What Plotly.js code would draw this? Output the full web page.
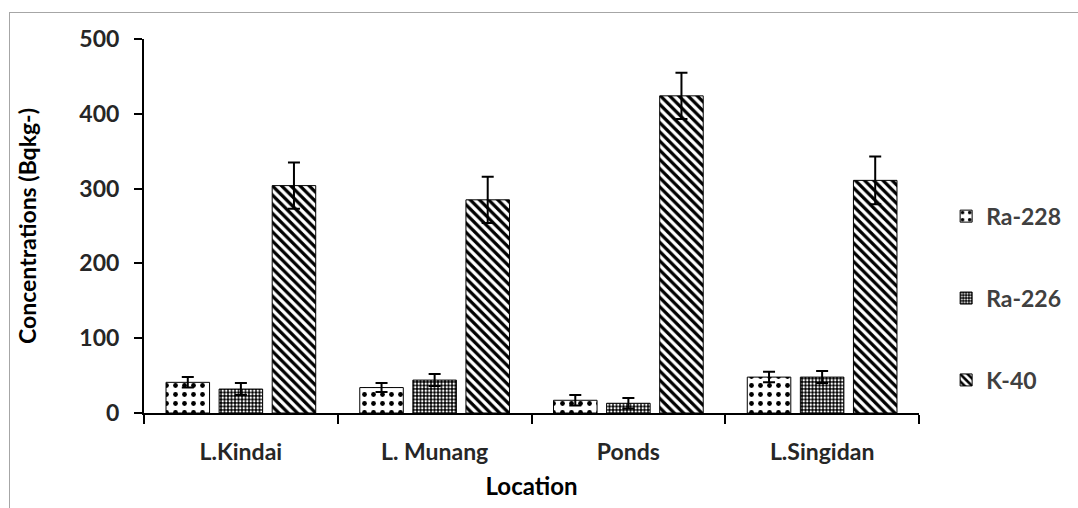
<!DOCTYPE html>
<html>
<head>
<meta charset="utf-8">
<script src="https://cdn.plot.ly/plotly-3.0.1.min.js"></script>
<style>
html,body{margin:0;padding:0;background:#fff;}
#chart{width:1078px;height:508px;position:absolute;left:0;top:0;}
#frame{position:absolute;left:9px;top:12px;width:1200px;height:600px;border-left:1px solid #a6a6a6;border-top:1px solid #a6a6a6;pointer-events:none;}
</style>
</head>
<body>
<div id="chart"></div>
<div id="frame"></div>
<script>
// Data
const locations = ["L.Kindai", "L. Munang", "Ponds", "L.Singidan"];
const seriesNames = ["Ra-228", "Ra-226", "K-40"];
const ra228 = [41, 34, 17, 48];
const ra228Err = [7, 6, 7, 7];
const ra226 = [32, 44, 13, 48];
const ra226Err = [8, 8, 7, 8];
const k40 = [304, 285, 424, 311];
const k40Err = [31, 31, 31, 32];
const yTicks = [0, 100, 200, 300, 400, 500];

const FONT = "Lato, 'Open Sans', 'DejaVu Sans', sans-serif";
const patterns = [
  {shape: ".", size: 9, solidity: 0.22, fgcolor: "#000", bgcolor: "#fff", fillmode: "replace"},
  {shape: ".", size: 3.5, solidity: 0.4, fgcolor: "#fff", bgcolor: "#000", fillmode: "replace"},
  {shape: "\\", size: 6.5, solidity: 0.5, fgcolor: "#000", bgcolor: "#fff", fillmode: "replace"}
];
const vals = [ra228, ra226, k40];
const errs = [ra228Err, ra226Err, k40Err];

const traces = seriesNames.map((name, i) => ({
  type: "bar",
  name: name,
  x: locations,
  y: vals[i],
  legendgroup: name,
  marker: {color: "#fff", line: {color: "#000", width: 1}, pattern: patterns[i]},
  error_y: {type: "data", array: errs[i], visible: true, color: "#000", thickness: 2, width: 6}
}));

const layout = {
  width: 1078, height: 508,
  margin: {l: 144, r: 135, t: 39, b: 95},
  paper_bgcolor: "rgba(0,0,0,0)",
  plot_bgcolor: "#fff",
  barmode: "group",
  bargap: 0.178,
  bargroupgap: 0.18,
  showlegend: true,
  legend: {
    x: 1.035, xanchor: "left", y: 0.307, yanchor: "middle",
    font: {family: FONT, size: 23, color: "#404040", weight: "bold"},
    tracegroupgap: 49, traceorder: "grouped", itemwidth: 30
  },
  xaxis: {
    type: "category",
    showline: true, linecolor: "#000", linewidth: 2,
    ticks: "outside", tickson: "boundaries", ticklen: 9, tickwidth: 2, tickcolor: "#000",
    ticklabelstandoff: 17,
    tickfont: {family: FONT, size: 23, color: "#262626", weight: "bold"},
    showgrid: false, zeroline: false,
    title: {text: "Location", font: {family: FONT, size: 24, color: "#000", weight: "bold"}, standoff: 15}
  },
  yaxis: {
    range: [0, 500], tickvals: yTicks,
    showline: true, linecolor: "#000", linewidth: 2,
    ticks: "outside", ticklen: 8, tickwidth: 2, tickcolor: "#000",
    ticklabelstandoff: 10,
    tickfont: {family: FONT, size: 23, color: "#262626", weight: "bold"},
    showgrid: false, zeroline: false,
    title: {text: "Concentrations (Bqkg-)", font: {family: FONT, size: 23, color: "#000", weight: "bold"}, standoff: 36}
  }
};

Plotly.newPlot("chart", traces, layout, {displayModeBar: false, staticPlot: true});
</script>
</body>
</html>
